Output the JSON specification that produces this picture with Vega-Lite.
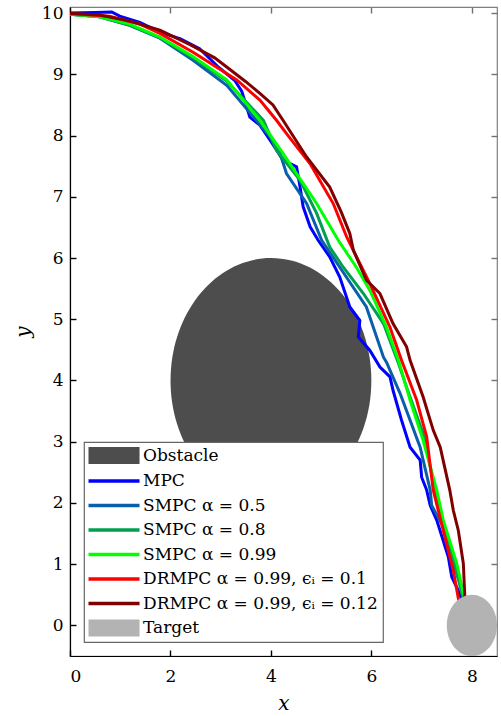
{
  "$schema": "https://vega.github.io/schema/vega-lite/v6.json",
  "width": 427,
  "height": 649,
  "autosize": "none",
  "padding": {"left": 70, "top": 7, "right": 4, "bottom": 60},
  "config": {
    "view": {"stroke": "#808080", "strokeWidth": 1.2},
    "font": "DejaVu Serif",
    "axis": {
      "labelFont": "DejaVu Serif", "labelFontSize": 17, "labelColor": "#000",
      "titleFont": "DejaVu Serif", "titleFontSize": 20, "titleFontStyle": "italic", "titleFontWeight": "normal", "titleColor": "#000",
      "grid": false, "tickWidth": 1.4, "tickColor": "#000", "domainColor": "#000", "domainWidth": 1.2
    },
    "legend": {
      "orient": "bottom-left", "offset": 14, "padding": 5,
      "strokeColor": "#666", "fillColor": "#ffffff", "strokeWidth": 1.2,
      "labelFont": "DejaVu Serif", "labelFontSize": 17, "labelColor": "#000", "labelLimit": 500,
      "symbolSize": 324, "rowPadding": 6.5, "labelOffset": 37
    }
  },
  "datasets": {
    "shapes": [
      {"s": "Obstacle", "x": 4, "y": 4},
      {"s": "Target", "x": 8, "y": 0}
    ],
    "mpc": [
      {"s": "MPC", "x": 0, "y": 10}, {"s": "MPC", "x": 0.49, "y": 10.01}, {"s": "MPC", "x": 0.83, "y": 10.02}, {"s": "MPC", "x": 0.99, "y": 9.95},
      {"s": "MPC", "x": 1.39, "y": 9.85}, {"s": "MPC", "x": 1.79, "y": 9.69}, {"s": "MPC", "x": 2.2, "y": 9.58}, {"s": "MPC", "x": 2.58, "y": 9.42},
      {"s": "MPC", "x": 2.95, "y": 9.12}, {"s": "MPC", "x": 3.28, "y": 8.9},
      {"s": "MPC", "x": 3.42, "y": 8.72}, {"s": "MPC", "x": 3.58, "y": 8.3}, {"s": "MPC", "x": 3.78, "y": 8.17}, {"s": "MPC", "x": 4.02, "y": 7.88}, {"s": "MPC", "x": 4.24, "y": 7.6},
      {"s": "MPC", "x": 4.51, "y": 7.49}, {"s": "MPC", "x": 4.58, "y": 7.16}, {"s": "MPC", "x": 4.64, "y": 6.84}, {"s": "MPC", "x": 4.78, "y": 6.51},
      {"s": "MPC", "x": 4.94, "y": 6.29}, {"s": "MPC", "x": 5.17, "y": 6.02}, {"s": "MPC", "x": 5.37, "y": 5.69}, {"s": "MPC", "x": 5.57, "y": 5.2},
      {"s": "MPC", "x": 5.77, "y": 4.98}, {"s": "MPC", "x": 5.74, "y": 4.71}, {"s": "MPC", "x": 5.97, "y": 4.49}, {"s": "MPC", "x": 6.17, "y": 4.22},
      {"s": "MPC", "x": 6.37, "y": 4.06}, {"s": "MPC", "x": 6.43, "y": 3.84}, {"s": "MPC", "x": 6.6, "y": 3.35}, {"s": "MPC", "x": 6.77, "y": 2.91}, {"s": "MPC", "x": 6.97, "y": 2.7},
      {"s": "MPC", "x": 7.0, "y": 2.42}, {"s": "MPC", "x": 7.1, "y": 2.21}, {"s": "MPC", "x": 7.17, "y": 1.96}, {"s": "MPC", "x": 7.3, "y": 1.72},
      {"s": "MPC", "x": 7.53, "y": 1.12}, {"s": "MPC", "x": 7.6, "y": 0.79}, {"s": "MPC", "x": 7.73, "y": 0.57}, {"s": "MPC", "x": 7.8, "y": 0.42}
    ],
    "s05": [
      {"s": "SMPC α = 0.5", "x": 0, "y": 9.98}, {"s": "SMPC α = 0.5", "x": 0.59, "y": 9.94}, {"s": "SMPC α = 0.5", "x": 1.19, "y": 9.8},
      {"s": "SMPC α = 0.5", "x": 1.79, "y": 9.59}, {"s": "SMPC α = 0.5", "x": 2.45, "y": 9.23}, {"s": "SMPC α = 0.5", "x": 3.12, "y": 8.82},
      {"s": "SMPC α = 0.5", "x": 3.71, "y": 8.25}, {"s": "SMPC α = 0.5", "x": 3.98, "y": 7.98}, {"s": "SMPC α = 0.5", "x": 4.18, "y": 7.71},
      {"s": "SMPC α = 0.5", "x": 4.31, "y": 7.38}, {"s": "SMPC α = 0.5", "x": 4.71, "y": 6.89}, {"s": "SMPC α = 0.5", "x": 5.01, "y": 6.29},
      {"s": "SMPC α = 0.5", "x": 5.37, "y": 5.85}, {"s": "SMPC α = 0.5", "x": 5.9, "y": 5.2}, {"s": "SMPC α = 0.5", "x": 6.24, "y": 4.38},
      {"s": "SMPC α = 0.5", "x": 6.3, "y": 4.3}, {"s": "SMPC α = 0.5", "x": 6.57, "y": 3.79}, {"s": "SMPC α = 0.5", "x": 6.97, "y": 2.91},
      {"s": "SMPC α = 0.5", "x": 7.17, "y": 2.21}, {"s": "SMPC α = 0.5", "x": 7.2, "y": 1.96}, {"s": "SMPC α = 0.5", "x": 7.43, "y": 1.61},
      {"s": "SMPC α = 0.5", "x": 7.63, "y": 1.01}, {"s": "SMPC α = 0.5", "x": 7.83, "y": 0.52}, {"s": "SMPC α = 0.5", "x": 7.86, "y": 0.44}
    ],
    "s08": [
      {"s": "SMPC α = 0.8", "x": 0, "y": 9.98}, {"s": "SMPC α = 0.8", "x": 0.59, "y": 9.94}, {"s": "SMPC α = 0.8", "x": 1.19, "y": 9.8},
      {"s": "SMPC α = 0.8", "x": 1.79, "y": 9.6}, {"s": "SMPC α = 0.8", "x": 2.45, "y": 9.27}, {"s": "SMPC α = 0.8", "x": 3.12, "y": 8.89},
      {"s": "SMPC α = 0.8", "x": 3.85, "y": 8.25}, {"s": "SMPC α = 0.8", "x": 4.11, "y": 7.76}, {"s": "SMPC α = 0.8", "x": 4.58, "y": 7.27},
      {"s": "SMPC α = 0.8", "x": 4.91, "y": 6.73}, {"s": "SMPC α = 0.8", "x": 5.17, "y": 6.18}, {"s": "SMPC α = 0.8", "x": 5.44, "y": 5.85},
      {"s": "SMPC α = 0.8", "x": 5.84, "y": 5.42}, {"s": "SMPC α = 0.8", "x": 6.24, "y": 4.93}, {"s": "SMPC α = 0.8", "x": 6.53, "y": 4.3},
      {"s": "SMPC α = 0.8", "x": 6.7, "y": 3.89}, {"s": "SMPC α = 0.8", "x": 7.03, "y": 3.13}, {"s": "SMPC α = 0.8", "x": 7.27, "y": 2.21},
      {"s": "SMPC α = 0.8", "x": 7.37, "y": 1.83}, {"s": "SMPC α = 0.8", "x": 7.66, "y": 1.01}, {"s": "SMPC α = 0.8", "x": 7.8, "y": 0.52},
      {"s": "SMPC α = 0.8", "x": 7.84, "y": 0.44}
    ],
    "s099": [
      {"s": "SMPC α = 0.99", "x": 0, "y": 9.98}, {"s": "SMPC α = 0.99", "x": 0.59, "y": 9.94}, {"s": "SMPC α = 0.99", "x": 1.19, "y": 9.82},
      {"s": "SMPC α = 0.99", "x": 1.79, "y": 9.61}, {"s": "SMPC α = 0.99", "x": 2.45, "y": 9.29}, {"s": "SMPC α = 0.99", "x": 3.12, "y": 8.91},
      {"s": "SMPC α = 0.99", "x": 3.78, "y": 8.25}, {"s": "SMPC α = 0.99", "x": 4.24, "y": 7.71}, {"s": "SMPC α = 0.99", "x": 4.91, "y": 6.89},
      {"s": "SMPC α = 0.99", "x": 5.34, "y": 6.29}, {"s": "SMPC α = 0.99", "x": 5.7, "y": 5.85}, {"s": "SMPC α = 0.99", "x": 5.97, "y": 5.47},
      {"s": "SMPC α = 0.99", "x": 6.3, "y": 4.87}, {"s": "SMPC α = 0.99", "x": 6.55, "y": 4.3}, {"s": "SMPC α = 0.99", "x": 6.77, "y": 3.68},
      {"s": "SMPC α = 0.99", "x": 7.03, "y": 3.02}, {"s": "SMPC α = 0.99", "x": 7.3, "y": 2.21}, {"s": "SMPC α = 0.99", "x": 7.43, "y": 1.72},
      {"s": "SMPC α = 0.99", "x": 7.7, "y": 1.01}, {"s": "SMPC α = 0.99", "x": 7.83, "y": 0.52}, {"s": "SMPC α = 0.99", "x": 7.86, "y": 0.46}
    ],
    "dr1": [
      {"s": "DRMPC α = 0.99, ϵᵢ = 0.1", "x": 0, "y": 9.99}, {"s": "DRMPC α = 0.99, ϵᵢ = 0.1", "x": 0.79, "y": 9.95},
      {"s": "DRMPC α = 0.99, ϵᵢ = 0.1", "x": 1.39, "y": 9.82}, {"s": "DRMPC α = 0.99, ϵᵢ = 0.1", "x": 1.79, "y": 9.67},
      {"s": "DRMPC α = 0.99, ϵᵢ = 0.1", "x": 2.45, "y": 9.36}, {"s": "DRMPC α = 0.99, ϵᵢ = 0.1", "x": 3.32, "y": 8.91},
      {"s": "DRMPC α = 0.99, ϵᵢ = 0.1", "x": 3.78, "y": 8.58}, {"s": "DRMPC α = 0.99, ϵᵢ = 0.1", "x": 4.11, "y": 8.25},
      {"s": "DRMPC α = 0.99, ϵᵢ = 0.1", "x": 4.36, "y": 7.98}, {"s": "DRMPC α = 0.99, ϵᵢ = 0.1", "x": 4.78, "y": 7.54},
      {"s": "DRMPC α = 0.99, ϵᵢ = 0.1", "x": 5.24, "y": 6.89}, {"s": "DRMPC α = 0.99, ϵᵢ = 0.1", "x": 5.51, "y": 6.34},
      {"s": "DRMPC α = 0.99, ϵᵢ = 0.1", "x": 5.97, "y": 5.58}, {"s": "DRMPC α = 0.99, ϵᵢ = 0.1", "x": 6.37, "y": 4.87},
      {"s": "DRMPC α = 0.99, ϵᵢ = 0.1", "x": 6.6, "y": 4.33}, {"s": "DRMPC α = 0.99, ϵᵢ = 0.1", "x": 6.9, "y": 3.68},
      {"s": "DRMPC α = 0.99, ϵᵢ = 0.1", "x": 7.1, "y": 3.08}, {"s": "DRMPC α = 0.99, ϵᵢ = 0.1", "x": 7.23, "y": 2.21},
      {"s": "DRMPC α = 0.99, ϵᵢ = 0.1", "x": 7.43, "y": 1.55}, {"s": "DRMPC α = 0.99, ϵᵢ = 0.1", "x": 7.63, "y": 0.9},
      {"s": "DRMPC α = 0.99, ϵᵢ = 0.1", "x": 7.73, "y": 0.44}, {"s": "DRMPC α = 0.99, ϵᵢ = 0.1", "x": 7.75, "y": 0.39}
    ],
    "dr2": [
      {"s": "DRMPC α = 0.99, ϵᵢ = 0.12", "x": 0, "y": 10}, {"s": "DRMPC α = 0.99, ϵᵢ = 0.12", "x": 0.59, "y": 9.97},
      {"s": "DRMPC α = 0.99, ϵᵢ = 0.12", "x": 1.19, "y": 9.87}, {"s": "DRMPC α = 0.99, ϵᵢ = 0.12", "x": 1.79, "y": 9.72},
      {"s": "DRMPC α = 0.99, ϵᵢ = 0.12", "x": 2.4, "y": 9.48}, {"s": "DRMPC α = 0.99, ϵᵢ = 0.12", "x": 2.88, "y": 9.27}, {"s": "DRMPC α = 0.99, ϵᵢ = 0.12", "x": 3.12, "y": 9.12},
      {"s": "DRMPC α = 0.99, ϵᵢ = 0.12", "x": 3.5, "y": 8.88}, {"s": "DRMPC α = 0.99, ϵᵢ = 0.12", "x": 3.78, "y": 8.69}, {"s": "DRMPC α = 0.99, ϵᵢ = 0.12", "x": 4.04, "y": 8.5},
      {"s": "DRMPC α = 0.99, ϵᵢ = 0.12", "x": 4.24, "y": 8.25}, {"s": "DRMPC α = 0.99, ϵᵢ = 0.12", "x": 4.71, "y": 7.65},
      {"s": "DRMPC α = 0.99, ϵᵢ = 0.12", "x": 5.17, "y": 7.16}, {"s": "DRMPC α = 0.99, ϵᵢ = 0.12", "x": 5.4, "y": 6.75}, {"s": "DRMPC α = 0.99, ϵᵢ = 0.12", "x": 5.57, "y": 6.4},
      {"s": "DRMPC α = 0.99, ϵᵢ = 0.12", "x": 5.64, "y": 6.13}, {"s": "DRMPC α = 0.99, ϵᵢ = 0.12", "x": 5.9, "y": 5.64},
      {"s": "DRMPC α = 0.99, ϵᵢ = 0.12", "x": 6.17, "y": 5.42}, {"s": "DRMPC α = 0.99, ϵᵢ = 0.12", "x": 6.43, "y": 4.93},
      {"s": "DRMPC α = 0.99, ϵᵢ = 0.12", "x": 6.7, "y": 4.55}, {"s": "DRMPC α = 0.99, ϵᵢ = 0.12", "x": 6.77, "y": 4.33},
      {"s": "DRMPC α = 0.99, ϵᵢ = 0.12", "x": 7.03, "y": 3.73}, {"s": "DRMPC α = 0.99, ϵᵢ = 0.12", "x": 7.23, "y": 3.19},
      {"s": "DRMPC α = 0.99, ϵᵢ = 0.12", "x": 7.37, "y": 2.91}, {"s": "DRMPC α = 0.99, ϵᵢ = 0.12", "x": 7.56, "y": 2.21},
      {"s": "DRMPC α = 0.99, ϵᵢ = 0.12", "x": 7.63, "y": 1.88}, {"s": "DRMPC α = 0.99, ϵᵢ = 0.12", "x": 7.73, "y": 1.55},
      {"s": "DRMPC α = 0.99, ϵᵢ = 0.12", "x": 7.83, "y": 1.01}, {"s": "DRMPC α = 0.99, ϵᵢ = 0.12", "x": 7.86, "y": 0.46},
      {"s": "DRMPC α = 0.99, ϵᵢ = 0.12", "x": 7.9, "y": 0.43}
    ]
  },
  "layer": [
    {
      "encoding": {
        "x": {"field": "x", "type": "quantitative", "scale": {"domain": [0, 8.5], "nice": false, "zero": false},
              "axis": {"orient": "bottom", "values": [0, 2, 4, 6, 8], "title": "x", "tickSize": -6, "labelPadding": 18, "titlePadding": 9}},
        "y": {"field": "y", "type": "quantitative", "scale": {"domain": [-0.5, 10.1], "nice": false, "zero": false},
              "axis": {"orient": "left", "values": [0, 1, 2, 3, 4, 5, 6, 7, 8, 9, 10], "title": "y", "tickSize": -6, "labelPadding": 13, "titlePadding": 8}},
        "color": {"field": "s", "type": "nominal",
          "scale": {"domain": ["Obstacle", "MPC", "SMPC α = 0.5", "SMPC α = 0.8", "SMPC α = 0.99", "DRMPC α = 0.99, ϵᵢ = 0.1", "DRMPC α = 0.99, ϵᵢ = 0.12", "Target"],
                    "range": ["#4d4d4d", "#0000ff", "#0a5fac", "#00a050", "#00ff00", "#ff0000", "#800000", "#b3b3b3"]},
          "legend": {"title": null,
            "encode": {"symbols": {"update": {
              "shape": {"signal": "datum.value === 'Obstacle' || datum.value === 'Target' ? 'M -1 -0.95 H 4.67 V 0.95 H -1 Z' : 'M -1 0 H 4.67'"},
              "fill": {"signal": "datum.value === 'Obstacle' || datum.value === 'Target' ? scale('color', datum.value) : 'transparent'"},
              "stroke": {"signal": "datum.value === 'Obstacle' || datum.value === 'Target' ? 'transparent' : scale('color', datum.value)"},
              "strokeWidth": {"signal": "datum.value === 'Obstacle' || datum.value === 'Target' ? 0 : 3.5"},
              "size": {"value": 324},
              "opacity": {"value": 1}
            }}}}
        }
      },
      "layer": [
        {"data": {"name": "shapes"}, "transform": [{"filter": "datum.s === 'Obstacle'"}],
         "mark": {"type": "point", "filled": true, "opacity": 1, "strokeWidth": 0, "size": 59927,
                  "shape": "M 0 -1 C 0.453 -1 0.8203 -0.5523 0.8203 0 C 0.8203 0.5523 0.453 1 0 1 C -0.453 1 -0.8203 0.5523 -0.8203 0 C -0.8203 -0.5523 -0.453 -1 0 -1 Z"}},
        {"data": {"name": "mpc"}, "mark": {"type": "line", "strokeWidth": 3, "clip": true}, "encoding": {"order": {"value": null}}},
        {"data": {"name": "s05"}, "mark": {"type": "line", "strokeWidth": 3, "clip": true}, "encoding": {"order": {"value": null}}},
        {"data": {"name": "s08"}, "mark": {"type": "line", "strokeWidth": 3, "clip": true}, "encoding": {"order": {"value": null}}},
        {"data": {"name": "s099"}, "mark": {"type": "line", "strokeWidth": 3, "clip": true}, "encoding": {"order": {"value": null}}},
        {"data": {"name": "dr1"}, "mark": {"type": "line", "strokeWidth": 3, "clip": true}, "encoding": {"order": {"value": null}}},
        {"data": {"name": "dr2"}, "mark": {"type": "line", "strokeWidth": 3, "clip": true}, "encoding": {"order": {"value": null}}},
        {"data": {"name": "shapes"}, "transform": [{"filter": "datum.s === 'Target'"}],
         "mark": {"type": "point", "filled": true, "opacity": 1, "strokeWidth": 0, "size": 3745, "clip": true,
                  "shape": "M 0 -1 C 0.453 -1 0.8203 -0.5523 0.8203 0 C 0.8203 0.5523 0.453 1 0 1 C -0.453 1 -0.8203 0.5523 -0.8203 0 C -0.8203 -0.5523 -0.453 -1 0 -1 Z"}}
      ]
    },
    {
      "data": {"name": "shapes"},
      "mark": {"type": "point", "opacity": 0},
      "encoding": {
        "x": {"field": "x", "type": "quantitative", "scale": {"domain": [0, 8.5], "nice": false, "zero": false},
              "axis": {"orient": "top", "values": [0, 2, 4, 6, 8], "labels": false, "title": null, "domain": false, "tickSize": -6, "tickColor": "#707070"}},
        "y": {"field": "y", "type": "quantitative", "scale": {"domain": [-0.5, 10.1], "nice": false, "zero": false},
              "axis": {"orient": "right", "values": [0, 1, 2, 3, 4, 5, 6, 7, 8, 9, 10], "labels": false, "title": null, "domain": false, "tickSize": -6, "tickColor": "#707070"}}
      }
    }
  ],
  "resolve": {"axis": {"x": "independent", "y": "independent"}}
}
